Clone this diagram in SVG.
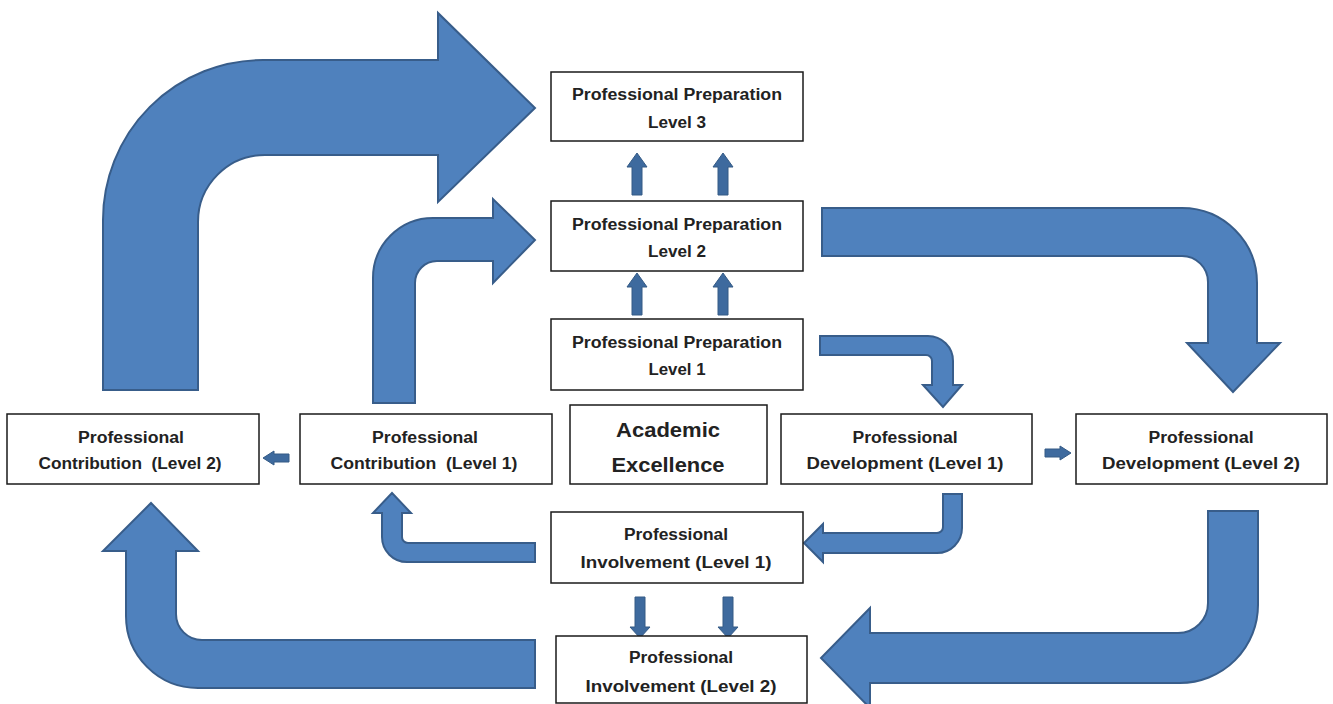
<svg xmlns="http://www.w3.org/2000/svg" width="1333" height="704" viewBox="0 0 1333 704">
<style>
.box{fill:#fff;stroke:#1a1a1a;stroke-width:1.5}
.t{font-family:"Liberation Sans",Arial,sans-serif;font-weight:bold;font-size:16px;fill:#222;text-anchor:middle}
.big{font-size:21px}
.arr{fill:#4F81BD;stroke:#385D8A;stroke-width:2;stroke-linejoin:miter}
.sm{fill:#3E6A9E;stroke:#345A85;stroke-width:1}
</style>
<rect width="1333" height="704" fill="#fff"/>
<g id="connectors">
<path class="arr" d="M103,390 L103,220 A160,160 0 0 1 263,60 L438,60 L438,13 L535,108 L438,202 L438,155 L265,155 A67,67 0 0 0 198,222 L198,390 Z"/>
<path class="arr" d="M373,403 L373,278 A60,60 0 0 1 433,218 L493,218 L493,199 L535,240 L493,283 L493,261 L437,261 A22,22 0 0 0 415,283 L415,403 Z"/>
<path class="arr" d="M822,208 L1182,208 A75,75 0 0 1 1257,283 L1257,343 L1280,343 L1233,392 L1187,343 L1208,343 L1208,282 A26,26 0 0 0 1182,256 L822,256 Z"/>
<path class="arr" d="M820,336 L928,336 A25,25 0 0 1 953,361 L953,385 L962,385 L943,407 L923,385 L932,385 L932,361 A6,6 0 0 0 926,355 L820,355 Z"/>
<path class="arr" d="M943,494 L962,494 L962,528 A25,25 0 0 1 937,553 L823,553 L823,562 L804,543 L823,524 L823,533 L937,533 A6,6 0 0 0 943,527 Z"/>
<path class="arr" d="M535,543 L535,562 L407,562 A25,25 0 0 1 382,537 L382,513 L373,513 L392,493 L411,513 L402,513 L402,537 A6,6 0 0 0 408,543 Z"/>
<path class="arr" d="M535,640 L535,688 L198,688 A72,72 0 0 1 126,616 L126,551 L103,551 L151,503 L198,551 L176,551 L176,614 A26,26 0 0 0 202,640 Z"/>
<path class="arr" d="M1208,511 L1258,511 L1258,605 A78,78 0 0 1 1180,683 L870,683 L870,708 L821,658 L870,608 L870,633 L1178,633 A30,30 0 0 0 1208,603 Z"/>
<!-- small vertical arrows -->
<path class="sm" d="M632,195 L632,167 L627,167 L637,153 L647,167 L642,167 L642,195 Z"/>
<path class="sm" d="M718,195 L718,167 L713,167 L723,153 L733,167 L728,167 L728,195 Z"/>
<path class="sm" d="M632,315 L632,287 L627,287 L637,273 L647,287 L642,287 L642,315 Z"/>
<path class="sm" d="M718,315 L718,287 L713,287 L723,273 L733,287 L728,287 L728,315 Z"/>
<path class="sm" d="M635,597 L635,627 L630,627 L640,638 L650,627 L645,627 L645,597 Z"/>
<path class="sm" d="M723,597 L723,627 L718,627 L728,638 L738,627 L733,627 L733,597 Z"/>
<!-- small horizontal arrows -->
<path class="sm" d="M289,454 L274,454 L274,451 L263,458 L274,465 L274,462 L289,462 Z"/>
<path class="sm" d="M1045,449 L1060,449 L1060,446 L1071,453 L1060,460 L1060,457 L1045,457 Z"/>
</g>
<g id="pp3"><rect class="box" x="551" y="72" width="252" height="69"/>
<text class="t" x="677" y="100" textLength="210" lengthAdjust="spacingAndGlyphs">Professional Preparation</text>
<text class="t" x="677" y="128" textLength="58" lengthAdjust="spacingAndGlyphs">Level 3</text></g>
<g id="pp2"><rect class="box" x="551" y="201" width="252" height="70"/>
<text class="t" x="677" y="230" textLength="210" lengthAdjust="spacingAndGlyphs">Professional Preparation</text>
<text class="t" x="677" y="257" textLength="58" lengthAdjust="spacingAndGlyphs">Level 2</text></g>
<g id="pp1"><rect class="box" x="551" y="319" width="252" height="71"/>
<text class="t" x="677" y="348" textLength="210" lengthAdjust="spacingAndGlyphs">Professional Preparation</text>
<text class="t" x="677" y="375" textLength="57" lengthAdjust="spacingAndGlyphs">Level 1</text></g>
<g id="pc2"><rect class="box" x="7" y="414" width="252" height="70"/>
<text class="t" x="131" y="443" textLength="106" lengthAdjust="spacingAndGlyphs">Professional</text>
<text class="t" x="130" y="469" textLength="183" lengthAdjust="spacingAndGlyphs" xml:space="preserve">Contribution  (Level 2)</text></g>
<g id="pc1"><rect class="box" x="300" y="414" width="252" height="70"/>
<text class="t" x="425" y="443" textLength="106" lengthAdjust="spacingAndGlyphs">Professional</text>
<text class="t" x="424" y="469" textLength="187" lengthAdjust="spacingAndGlyphs" xml:space="preserve">Contribution  (Level 1)</text></g>
<g id="ae"><rect class="box" x="570" y="405" width="197" height="79"/>
<text class="t big" x="668" y="437" textLength="104" lengthAdjust="spacingAndGlyphs">Academic</text>
<text class="t big" x="668" y="472" textLength="113" lengthAdjust="spacingAndGlyphs">Excellence</text></g>
<g id="pd1"><rect class="box" x="781" y="414" width="251" height="70"/>
<text class="t" x="905" y="443" textLength="105" lengthAdjust="spacingAndGlyphs">Professional</text>
<text class="t" x="905" y="469" textLength="197" lengthAdjust="spacingAndGlyphs">Development (Level 1)</text></g>
<g id="pd2"><rect class="box" x="1076" y="414" width="251" height="70"/>
<text class="t" x="1201" y="443" textLength="105" lengthAdjust="spacingAndGlyphs">Professional</text>
<text class="t" x="1201" y="469" textLength="198" lengthAdjust="spacingAndGlyphs">Development (Level 2)</text></g>
<g id="pi1"><rect class="box" x="551" y="512" width="252" height="71"/>
<text class="t" x="676" y="540" textLength="104" lengthAdjust="spacingAndGlyphs">Professional</text>
<text class="t" x="676" y="568" textLength="191" lengthAdjust="spacingAndGlyphs">Involvement (Level 1)</text></g>
<g id="pi2"><rect class="box" x="556" y="636" width="251" height="67"/>
<text class="t" x="681" y="663" textLength="104" lengthAdjust="spacingAndGlyphs">Professional</text>
<text class="t" x="681" y="692" textLength="191" lengthAdjust="spacingAndGlyphs">Involvement (Level 2)</text></g>
</svg>
